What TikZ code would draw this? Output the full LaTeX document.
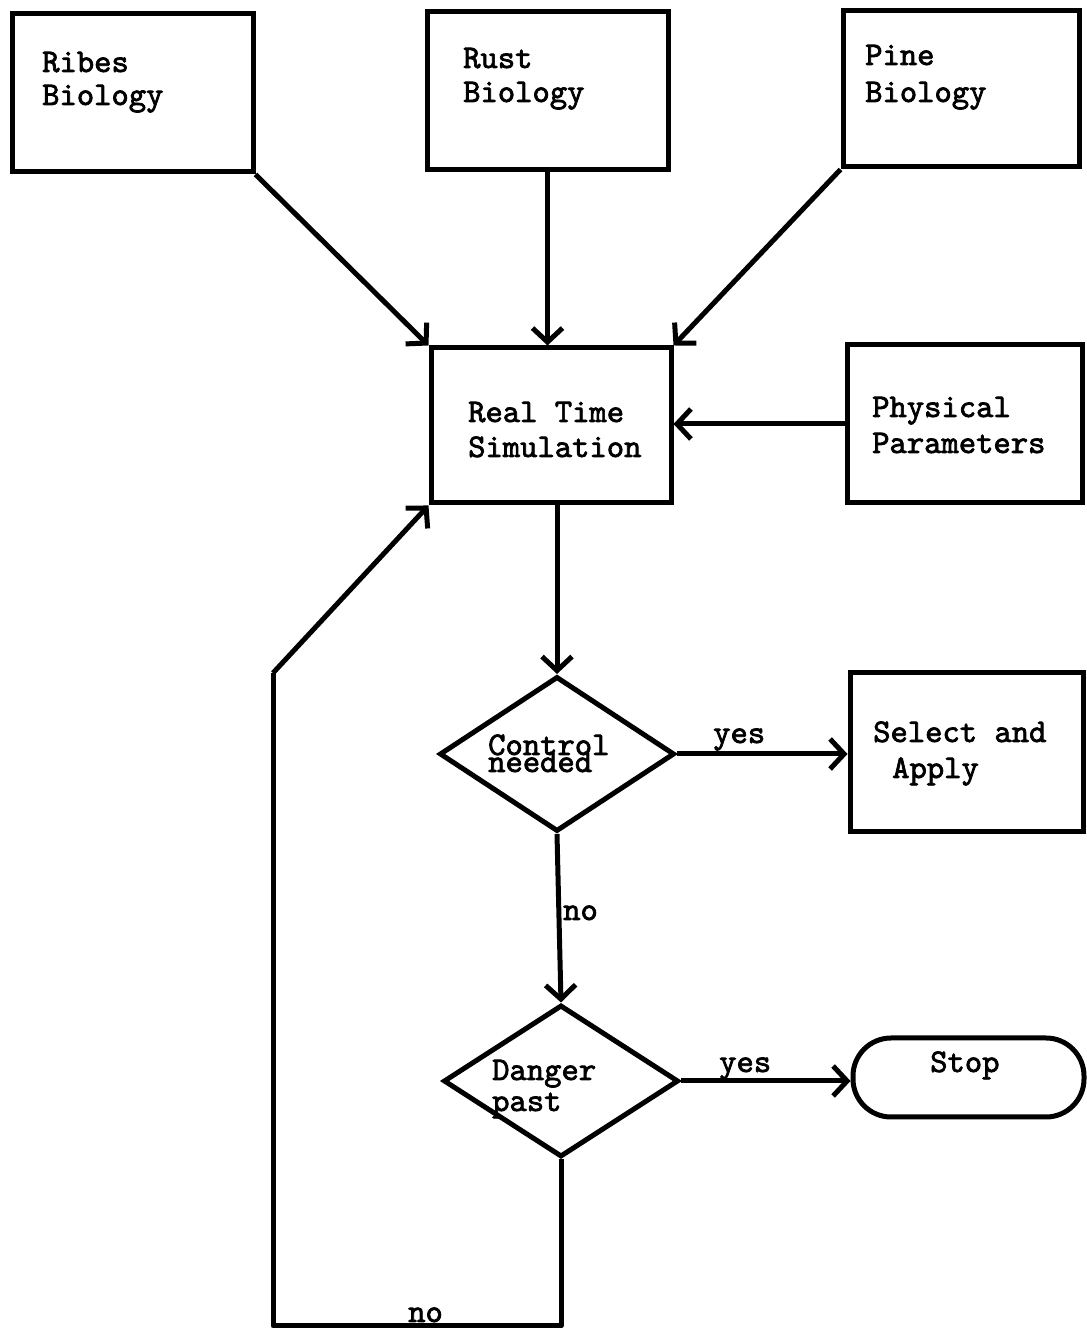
\documentclass[tikz,border=0pt]{standalone}
\usepackage{fontspec}
\newfontfamily\tw[FakeBold=2.2]{lmmono10-regular.otf}
\usetikzlibrary{arrows.meta,shapes.geometric}
\begin{document}
\begin{tikzpicture}[x=1pt,y=1pt,
  box/.style={draw,line width=5pt,inner sep=0pt,minimum width=#1},
  dia/.style={draw,diamond,line width=5pt,inner sep=0pt},
  txt/.style={anchor=base west,inner sep=0pt,font=\fontsize{33}{36}\selectfont\tw},
  conn/.style={line width=5pt,-{Straight Barb[length=14pt,width=30pt]}},
  plain/.style={line width=5pt,line join=round}]
\useasboundingbox (0,0) rectangle (1086,1329);
% boxes
\node[box=241pt,minimum height=158pt] (ribes) at (132.5,1236) {};
\node[box=241pt,minimum height=158pt] (rust) at (547.5,1238) {};
\node[box=236pt,minimum height=156pt] (pine) at (961,1240) {};
\node[box=240pt,minimum height=155pt] (rts) at (551,903.5) {};
\node[box=235pt,minimum height=158pt] (phys) at (964.5,905) {};
\node[dia,minimum width=235pt,minimum height=155pt] (ctrl) at (557,575) {};
\node[box=233pt,minimum height=159pt] (sel) at (966.5,576.5) {};
\node[dia,minimum width=235pt,minimum height=152pt] (danger) at (561,248) {};
\node[box=231pt,minimum height=79pt,rounded corners=38pt] (stop) at (968.5,251.5) {};
% texts
\node[txt] (ribesA) at (42,1257) {Ribes};
\node[txt] (ribesB) at (42,1224) {Biology};
\node[txt] (rustA) at (463,1261) {Rust};
\node[txt] (rustB) at (463,1227) {Biology};
\node[txt] (pineA) at (865,1264) {Pine};
\node[txt] (pineB) at (865,1227) {Biology};
\node[txt] (rtsA) at (468,907) {Real Time};
\node[txt] (rtsB) at (468,872) {Simulation};
\node[txt] (physA) at (872,912) {Physical};
\node[txt] (physB) at (872,876) {Parameters};
\node[txt] (selA) at (873,587) {Select and};
\node[txt] (selB) at (892,551) {Apply};
\node[txt] (ctrlA) at (488,574) {Control};
\node[txt] (ctrlB) at (488,557) {needed};
\node[txt] (dangerA) at (492,249) {Danger};
\node[txt] (dangerB) at (492,218) {past};
\node[txt] (stopT) at (930,257) {Stop};
\node[txt] (yes1) at (713,586) {yes};
\node[txt] (yes2) at (719,257) {yes};
\node[txt] (no1) at (563,409) {no};
\node[txt] (no2) at (408,7) {no};
% connectors
\draw[conn] (ribes.south east) -- (rts.north west);
\draw[conn] (rust.south) -- (rust.south |- rts.north);
\draw[conn] (pine.south west) -- (rts.north east);
\draw[conn] (phys.west) -- (phys.west -| rts.east);
\draw[conn] (ctrl.north |- rts.south) -- (ctrl.north);
\draw[conn] (ctrl.east) -- (ctrl.east -| sel.west);
\draw[conn] (ctrl.south) -- (danger.north);
\draw[conn] (danger.east) -- (danger.east -| stop.west);
\coordinate (b1) at (561,3);
\coordinate (b2) at (273,3);
\coordinate (b3) at (273,656);
\draw[plain] (danger.south) -- (b1) -- (b2) -- (b3);
\draw[conn] (b3) -- (rts.south west);
\end{tikzpicture}
\end{document}
